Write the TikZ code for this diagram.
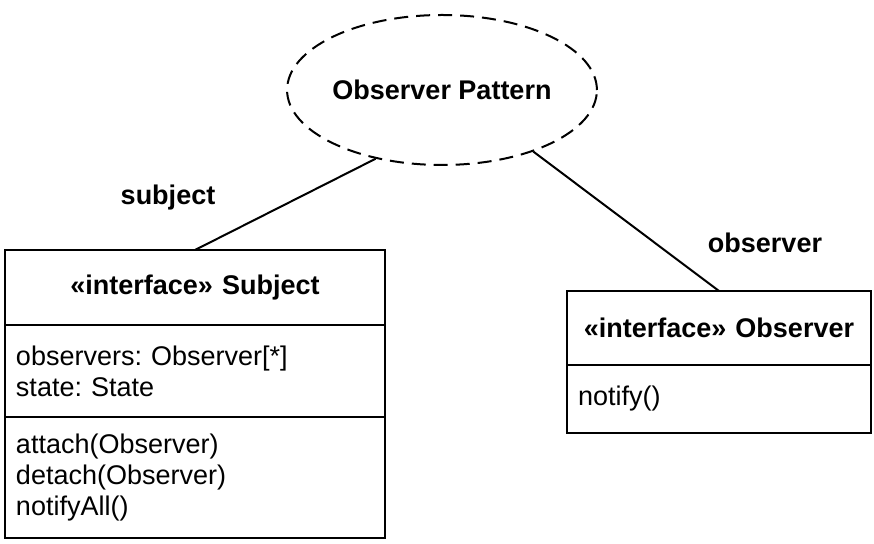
\documentclass[tikz,border=0pt]{standalone}
\usepackage{fontspec}
\setmainfont{Liberation Sans}
\usetikzlibrary{positioning, shapes.geometric}
\newcommand{\umltext}{\fontsize{13.5}{15.5}\selectfont\frenchspacing}

\begin{document}
\begin{tikzpicture}[x=0.5pt, y=-0.5pt, line width=1pt,
    compart/.style={draw, inner sep=0pt, inner xsep=5.5pt, outer sep=0pt, font=\umltext, align=left},
    header/.style={compart, align=center, font=\umltext\bfseries},
    rolelabel/.style={font=\umltext\bfseries}]
    \useasboundingbox (0,0) rectangle (874,544);

    % Collaboration
    \node[ellipse, draw, dash pattern=on 7pt off 4pt, minimum width=154pt, minimum height=75pt, inner sep=0pt, font=\umltext\bfseries] (pattern) at (442,90) {Observer Pattern};

    % Subject interface
    \node[header, text width=179pt, minimum height=37.5pt, anchor=north] (subjHead) at (195,250) {«interface» Subject};
    \node[compart, text width=179pt, minimum height=46pt, below=0pt of subjHead] (subjAttr) {observers: Observer[*]\\state: State};
    \node[compart, text width=179pt, minimum height=60.5pt, below=0pt of subjAttr] (subjOps) {attach(Observer)\\detach(Observer)\\notifyAll()};

    % Observer interface
    \node[header, text width=141pt, minimum height=37pt, anchor=north] (obsHead) at (719,291) {«interface» Observer};
    \node[compart, text width=141pt, minimum height=34pt, below=0pt of obsHead] (obsOps) {notify()};

    % Roles
    \draw (pattern.226) -- (subjHead.north);
    \draw (pattern.326) -- (obsHead.north);
    \node[rolelabel] (subjRole) at (168,198) {subject};
    \node[rolelabel] (obsRole) at (765,243) {observer};
\end{tikzpicture}
\end{document}
